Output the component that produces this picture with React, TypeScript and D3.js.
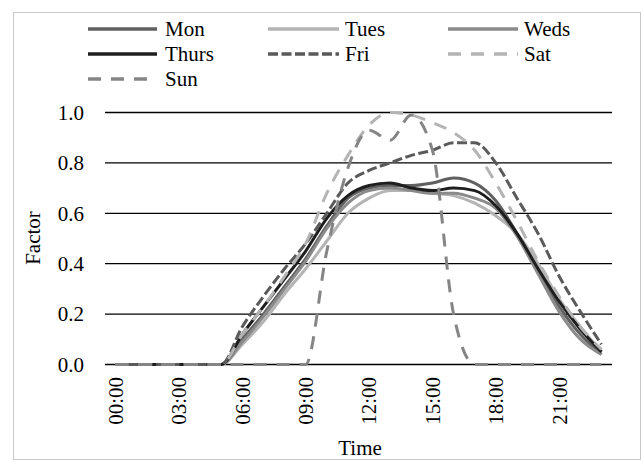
import React from "react";
import * as d3 from "d3";

const timeLabels = [
  "00:00", "01:00", "02:00", "03:00", "04:00", "05:00", "06:00", "07:00",
  "08:00", "09:00", "10:00", "11:00", "12:00", "13:00", "14:00", "15:00",
  "16:00", "17:00", "18:00", "19:00", "20:00", "21:00", "22:00", "23:00",
];
const tickLabels = ["00:00", "03:00", "06:00", "09:00", "12:00", "15:00", "18:00", "21:00"];
const yTicks = [0, 0.2, 0.4, 0.6, 0.8, 1.0];

const monValues = [0, 0, 0, 0, 0, 0, 0.10, 0.20, 0.31, 0.42, 0.55, 0.66, 0.70, 0.71, 0.71, 0.72, 0.74, 0.72, 0.65, 0.52, 0.37, 0.23, 0.12, 0.04];
const tuesValues = [0, 0, 0, 0, 0, 0, 0.08, 0.17, 0.28, 0.38, 0.49, 0.60, 0.66, 0.69, 0.69, 0.68, 0.67, 0.64, 0.59, 0.52, 0.40, 0.26, 0.15, 0.05];
const wedsValues = [0, 0, 0, 0, 0, 0, 0.09, 0.19, 0.30, 0.41, 0.54, 0.64, 0.69, 0.70, 0.69, 0.68, 0.68, 0.66, 0.62, 0.51, 0.36, 0.21, 0.10, 0.04];
const thursValues = [0, 0, 0, 0, 0, 0, 0.12, 0.23, 0.34, 0.45, 0.58, 0.67, 0.71, 0.72, 0.70, 0.69, 0.70, 0.69, 0.63, 0.52, 0.38, 0.25, 0.14, 0.05];
const friValues = [0, 0, 0, 0, 0, 0, 0.15, 0.27, 0.38, 0.48, 0.60, 0.72, 0.77, 0.80, 0.83, 0.85, 0.88, 0.88, 0.80, 0.66, 0.52, 0.35, 0.21, 0.08];
const satValues = [0, 0, 0, 0, 0, 0, 0.12, 0.23, 0.35, 0.48, 0.68, 0.83, 0.95, 1.00, 0.99, 0.96, 0.92, 0.85, 0.72, 0.57, 0.41, 0.27, 0.15, 0.06];
const sunValues = [0, 0, 0, 0, 0, 0, 0, 0, 0, 0, 0.45, 0.78, 0.93, 0.89, 0.99, 0.85, 0.20, 0, 0, 0, 0, 0, 0, 0];

const seriesNames = ["Mon", "Tues", "Weds", "Thurs", "Fri", "Sat", "Sun"];
const seriesValues = [monValues, tuesValues, wedsValues, thursValues, friValues, satValues, sunValues];
const seriesColors = ["#606060", "#b4b4b4", "#8a8a8a", "#1e1e1e", "#5a5a5a", "#b4b4b4", "#858585"];
const seriesDash = ["", "", "", "", "10,3.5", "13,10", "13,10"];

const W = 643;
const H = 461;
const textStyle: React.CSSProperties = {
  fontFamily: "Liberation Serif, DejaVu Serif, serif",
  fontSize: "21px",
};

export default function App() {
  const x = d3.scaleBand<string>().domain(timeLabels).range([105, 612]);
  const y = d3.scaleLinear().domain([0, 1]).range([364.5, 112.5]);
  const cx = (l: string) => (x(l) as number) + x.bandwidth() / 2;

  const line = d3
    .line<number>()
    .x((_, i) => cx(timeLabels[i]))
    .y((d) => y(d))
    .curve(d3.curveMonotoneX);

  const legendCols = [
    { x1: 88, x2: 157, tx: 165 },
    { x1: 268, x2: 339, tx: 345 },
    { x1: 448, x2: 518, tx: 524 },
  ];
  const legendRows = [29, 54, 79];

  return (
    <div style={{ position: "absolute", left: 0, top: 0 }}>
      <svg width={W} height={H} style={{ display: "block", background: "#fff" }}>
        <rect x={13.5} y={12.5} width={627} height={447} fill="#fff" stroke="#c8c8c8" strokeWidth={1} />

        {yTicks.map((t) => (
          <line key={t} x1={105} x2={612} y1={y(t)} y2={y(t)} stroke="#000" strokeWidth={1.3} />
        ))}

        {yTicks.map((t) => (
          <text key={"yl" + t} x={84} y={y(t)} dy="0.35em" textAnchor="end" style={textStyle} fill="#000">
            {d3.format(".1f")(t)}
          </text>
        ))}

        {tickLabels.map((l) => (
          <text
            key={"xl" + l}
            transform={`translate(${cx(l)},377) rotate(-90)`}
            dy="0.35em"
            textAnchor="end"
            style={textStyle}
            fill="#000"
          >
            {l}
          </text>
        ))}

        {seriesValues.map((vals, i) => (
          <path
            key={seriesNames[i]}
            d={line(vals) as string}
            fill="none"
            stroke={seriesColors[i]}
            strokeWidth={3}
            strokeDasharray={seriesDash[i] || undefined}
            strokeLinejoin="round"
          />
        ))}

        <text transform="translate(33,238) rotate(-90)" dy="0.35em" textAnchor="middle" style={textStyle} fill="#000">
          Factor
        </text>
        <text x={360} y={448} dy="0.35em" textAnchor="middle" style={textStyle} fill="#000">
          Time
        </text>

        {seriesNames.map((name, i) => {
          const col = legendCols[i % 3];
          const ry = legendRows[Math.floor(i / 3)];
          return (
            <g key={"lg" + name}>
              <line
                x1={col.x1}
                x2={col.x2}
                y1={ry}
                y2={ry}
                stroke={seriesColors[i]}
                strokeWidth={3.5}
                strokeDasharray={seriesDash[i] || undefined}
              />
              <text x={col.tx} y={ry} dy="0.35em" style={textStyle} fill="#000">
                {name}
              </text>
            </g>
          );
        })}
      </svg>
    </div>
  );
}
